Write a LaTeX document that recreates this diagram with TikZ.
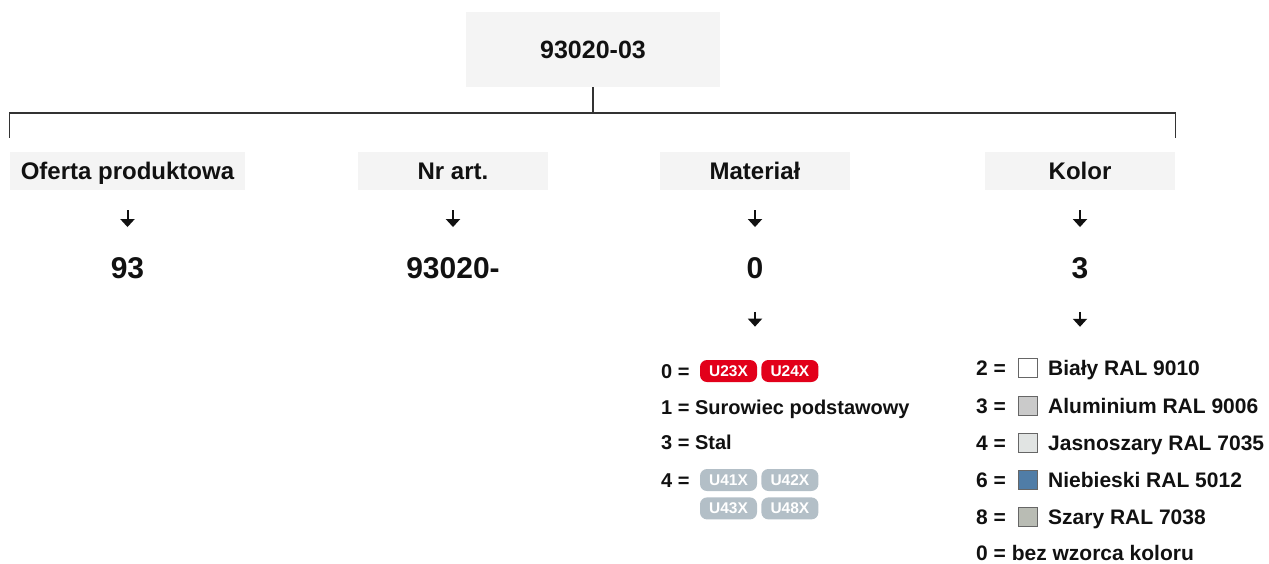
\documentclass[tikz,border=0pt]{standalone}
\usepackage{fontspec}
\setmainfont{Liberation Sans}
\usetikzlibrary{arrows.meta, positioning}
\definecolor{boxgray}{HTML}{F4F4F4}
\definecolor{inkblack}{HTML}{111111}
\definecolor{badgered}{HTML}{E2001A}
\definecolor{badgegray}{HTML}{B3BFC7}
\definecolor{ral9010}{HTML}{FFFFFF}
\definecolor{ral9006}{HTML}{CACACA}
\definecolor{ral7035}{HTML}{E1E4E3}
\definecolor{ral5012}{HTML}{507DA7}
\definecolor{ral7038}{HTML}{B9BCB4}
\definecolor{treeline}{HTML}{333333}
\tikzstyle{codebox} = [rectangle, fill=boxgray, inner sep=0pt, minimum width=254pt, minimum height=75pt, font=\fontsize{25}{30}\selectfont\bfseries, text height=18pt, text depth=0pt]
\tikzstyle{header} = [rectangle, fill=boxgray, inner sep=0pt, minimum width=190pt, minimum height=38pt, font=\fontsize{24}{28}\selectfont\bfseries, text height=17pt, text depth=0pt]
\tikzstyle{valnum} = [inner sep=0pt, font=\fontsize{30}{36}\selectfont\bfseries, text height=21.5pt, text depth=0pt]
\tikzstyle{listitem} = [anchor=west, inner sep=0pt, font=\fontsize{20}{24}\selectfont\bfseries, text height=14.3pt, text depth=0pt]
\tikzstyle{coloritem} = [listitem, font=\fontsize{21}{25}\selectfont\bfseries, text height=15pt]
\tikzstyle{badge} = [rectangle, rounded corners=7pt, minimum width=57pt, minimum height=22pt, inner sep=0pt, text=white, font=\fontsize{15.5}{18}\selectfont\bfseries, text height=11pt, text depth=0pt]
\tikzstyle{swatch} = [rectangle, draw=gray!80!black, line width=0.8pt, minimum size=19pt, inner sep=0pt]
\tikzstyle{tree} = [treeline, line width=1.3pt]
\tikzstyle{arrow} = [inkblack, line width=2pt, -{Triangle[width=14pt,length=8pt]}]

\begin{document}
\begin{tikzpicture}[x=1pt, y=-1pt, every node/.style={text=inkblack}]
    \useasboundingbox (0,0) rectangle (1269,563);

    % Nodes
    \node (code) [codebox] at (593,49.5) {93020-03};

    \node (hoferta) [header, minimum width=235pt] at (127.5,171) {Oferta produktowa};
    \node (hnr) [header] at (453,171) {Nr art.};
    \node (hmat) [header] at (755,171) {Materiał};
    \node (hkol) [header] at (1080,171) {Kolor};

    \node (voferta) [valnum] at (127.5,268) {93};
    \node (vnr) [valnum] at (453,268) {93020-};
    \node (vmat) [valnum] at (755,268) {0};
    \node (vkol) [valnum] at (1080,268) {3};

    % Material list
    \node (m0) [listitem] at (661,371) {0 =};
    \node (u23) [badge, fill=badgered] at (728.5,371) {U23X};
    \node (u24) [badge, fill=badgered, right=4pt of u23] {U24X};
    \node (m1) [listitem] at (661,407) {1 = Surowiec podstawowy};
    \node (m3) [listitem] at (661,442) {3 = Stal};
    \node (m4) [listitem] at (661,480) {4 =};
    \node (u41) [badge, fill=badgegray] at (728.5,480) {U41X};
    \node (u42) [badge, fill=badgegray, right=4pt of u41] {U42X};
    \node (u43) [badge, fill=badgegray, below=6pt of u41] {U43X};
    \node (u48) [badge, fill=badgegray, right=4pt of u43] {U48X};

    % Colour list
    \node (k2) [coloritem] at (976,368) {2 =};
    \node (s2) [swatch, fill=ral9010] at (1028,368) {};
    \node (t2) [coloritem] at (1048,368) {Biały RAL 9010};
    \node (k3) [coloritem] at (976,405.5) {3 =};
    \node (s3) [swatch, fill=ral9006] at (1028,405.5) {};
    \node (t3) [coloritem] at (1048,405.5) {Aluminium RAL 9006};
    \node (k4) [coloritem] at (976,442.5) {4 =};
    \node (s4) [swatch, fill=ral7035] at (1028,442.5) {};
    \node (t4) [coloritem] at (1048,442.5) {Jasnoszary RAL 7035};
    \node (k6) [coloritem] at (976,480) {6 =};
    \node (s6) [swatch, fill=ral5012] at (1028,480) {};
    \node (t6) [coloritem] at (1048,480) {Niebieski RAL 5012};
    \node (k8) [coloritem] at (976,517) {8 =};
    \node (s8) [swatch, fill=ral7038] at (1028,517) {};
    \node (t8) [coloritem] at (1048,517) {Szary RAL 7038};
    \node (k0) [coloritem] at (976,553) {0 = bez wzorca koloru};

    % Tree
    \coordinate (bus) at (593,113);
    \draw [tree] (code.south) -- (bus);
    \draw [tree] ([yshift=14pt]hoferta.north west) |- (bus) -| ([yshift=14pt]hkol.north east);

    % Arrows
    \draw [arrow, shorten <=20pt, shorten >=30pt] (hoferta) -- (voferta);
    \draw [arrow, shorten <=20pt, shorten >=30pt] (hnr) -- (vnr);
    \draw [arrow, shorten <=20pt, shorten >=30pt] (hmat) -- (vmat);
    \draw [arrow, shorten <=20pt, shorten >=30pt] (hkol) -- (vkol);

    \draw [arrow, shorten <=33pt, shorten >=37pt] (vmat.south) -- (vmat.south |- m0.north);
    \draw [arrow, shorten <=33pt, shorten >=33.5pt] (vkol.south) -- (vkol.south |- k2.north);

\end{tikzpicture}
\end{document}
